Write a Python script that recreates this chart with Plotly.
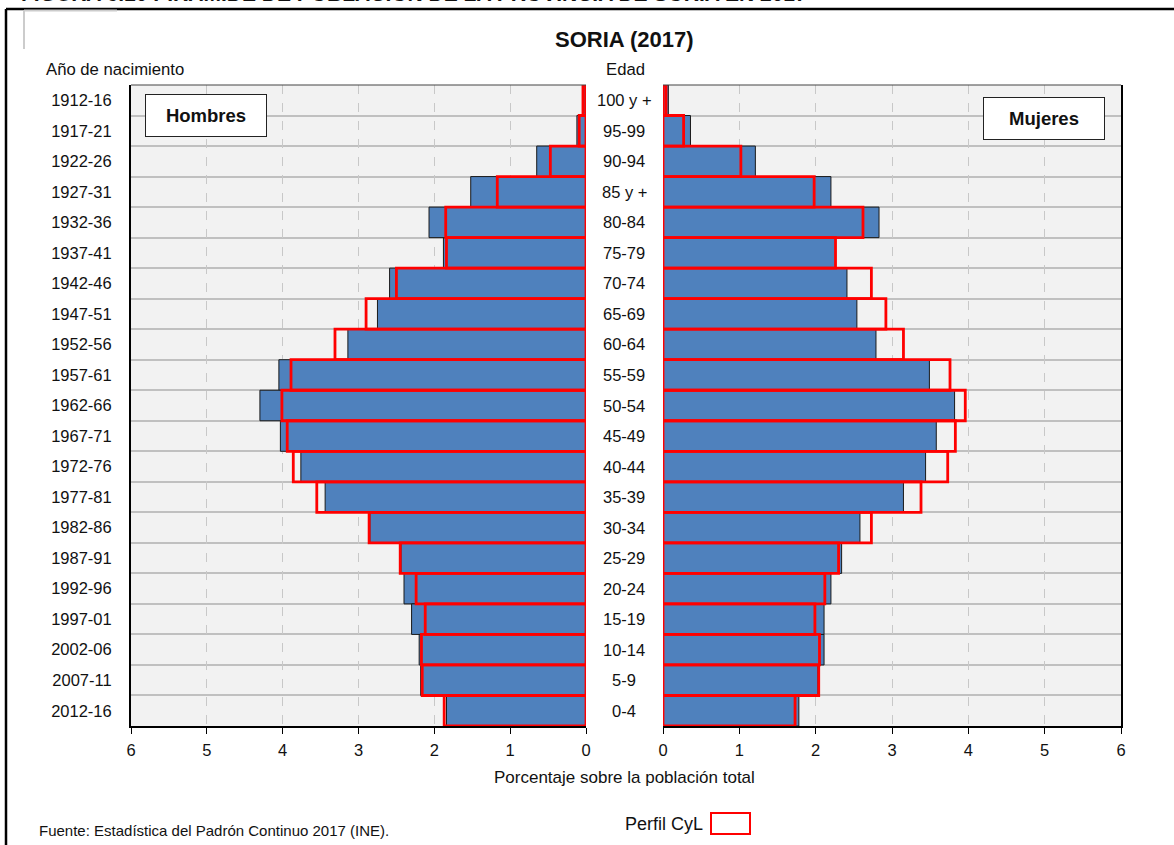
"""Pirámide de población de Soria (2017) frente al perfil de Castilla y León."""
import plotly.graph_objects as go

W, H = 1174, 845

birth_years = [
    "1912-16", "1917-21", "1922-26", "1927-31", "1932-36", "1937-41", "1942-46",
    "1947-51", "1952-56", "1957-61", "1962-66", "1967-71", "1972-76", "1977-81",
    "1982-86", "1987-91", "1992-96", "1997-01", "2002-06", "2007-11", "2012-16",
]
ages = [
    "100 y +", "95-99", "90-94", "85 y +", "80-84", "75-79", "70-74",
    "65-69", "60-64", "55-59", "50-54", "45-49", "40-44", "35-39",
    "30-34", "25-29", "20-24", "15-19", "10-14", "5-9", "0-4",
]

# % sobre la población total (Soria)
hombres_soria = [0.03, 0.12, 0.65, 1.52, 2.07, 1.88, 2.59, 2.75, 3.14, 4.05, 4.30,
                 4.03, 3.76, 3.44, 2.85, 2.44, 2.40, 2.30, 2.20, 2.18, 1.84]
mujeres_soria = [0.07, 0.36, 1.21, 2.20, 2.83, 2.26, 2.41, 2.54, 2.79, 3.49, 3.82,
                 3.58, 3.44, 3.15, 2.58, 2.34, 2.20, 2.11, 2.11, 2.03, 1.78]
# perfil Castilla y León
hombres_cyl = [0.04, 0.09, 0.47, 1.17, 1.85, 1.84, 2.50, 2.90, 3.31, 3.89, 4.01,
               3.94, 3.86, 3.55, 2.86, 2.45, 2.24, 2.12, 2.17, 2.16, 1.87]
mujeres_cyl = [0.04, 0.27, 1.02, 1.98, 2.62, 2.26, 2.73, 2.92, 3.15, 3.76, 3.96,
               3.83, 3.73, 3.38, 2.73, 2.30, 2.12, 1.99, 2.05, 2.04, 1.73]

x_ticks = [0, 1, 2, 3, 4, 5, 6]

BLUE = "#4f81bd"
RED = "#ff0000"
FONT = "Liberation Sans, Arial, sans-serif"


def px(x):
    return x / W


def py(y):
    return 1 - y / H


rows = list(range(len(birth_years)))

fig = go.Figure()
fig.add_trace(go.Bar(
    x=hombres_soria, y=rows, orientation="h", width=1,
    marker={"color": BLUE, "line": {"color": "#1a1a1a", "width": 1}},
    xaxis="x", yaxis="y", showlegend=False, hoverinfo="x",
))
fig.add_trace(go.Bar(
    x=hombres_cyl, y=rows, orientation="h", width=1,
    marker={"color": "rgba(0,0,0,0)", "line": {"color": RED, "width": 2.8}},
    xaxis="x", yaxis="y", showlegend=False, hoverinfo="x",
))
fig.add_trace(go.Bar(
    x=mujeres_soria, y=rows, orientation="h", width=1,
    marker={"color": BLUE, "line": {"color": "#1a1a1a", "width": 1}},
    xaxis="x2", yaxis="y2", showlegend=False, hoverinfo="x",
))
fig.add_trace(go.Bar(
    x=mujeres_cyl, y=rows, orientation="h", width=1,
    marker={"color": "rgba(0,0,0,0)", "line": {"color": RED, "width": 2.8}},
    xaxis="x2", yaxis="y2", showlegend=False, hoverinfo="x",
))

y_dom = [py(726), py(85)]
xaxis_common = {
    "tickvals": x_ticks,
    "ticktext": [str(v) for v in x_ticks],
    "ticks": "outside", "ticklen": 6, "tickcolor": "black", "tickwidth": 1,
    "showgrid": True, "gridcolor": "#c8c8c8", "griddash": "dash", "gridwidth": 1,
    "showline": True, "linecolor": "black", "linewidth": 2,
    "zeroline": False,
    "ticklabelstandoff": 2,
    "tickfont": {"size": 16.5, "color": "#111"},
    "fixedrange": True,
}
yaxis_common = {
    "range": [20.5, -0.5],
    "showgrid": False,
    "zeroline": False,
    "minor": {"tick0": 0.5, "dtick": 1, "showgrid": True,
              "gridcolor": "#c0c0c0", "gridwidth": 1.5},
    "showline": True, "linecolor": "black", "linewidth": 2,
    "fixedrange": True,
}

fig.update_layout(
    width=W, height=H,
    paper_bgcolor="white",
    plot_bgcolor="#f2f2f2",
    barmode="overlay",
    margin={"l": 0, "r": 0, "t": 0, "b": 0, "autoexpand": False},
    font={"family": FONT, "color": "#111"},
    xaxis={**xaxis_common, "domain": [px(131), px(586)], "range": [6, 0], "anchor": "y"},
    xaxis2={**xaxis_common, "domain": [px(663), px(1121)], "range": [0, 6], "anchor": "y2"},
    yaxis={**yaxis_common, "domain": y_dom, "anchor": "x", "side": "left",
           "tickvals": rows, "ticktext": birth_years, "ticks": "",
           "ticklabelstandoff": 14, "tickfont": {"size": 16.5, "color": "#111"}},
    yaxis2={**yaxis_common, "domain": y_dom, "anchor": "x2", "side": "right",
            "tickvals": rows, "showticklabels": False, "ticks": ""},
)

annotations = [
    {"text": "<b>FIGURA 6.10 PIRÁMIDE DE POBLACIÓN DE LA PROVINCIA DE SORIA EN 2017</b>",
     "x": px(19), "y": py(-6.5), "xanchor": "left", "yanchor": "middle",
     "font": {"size": 21}},
    {"text": "<b>SORIA (2017)</b>", "x": px(624), "y": py(39),
     "xanchor": "center", "yanchor": "middle", "font": {"size": 22}},
    {"text": "Año de nacimiento", "x": px(44), "y": py(70),
     "xanchor": "left", "yanchor": "middle", "font": {"size": 16.7}},
    {"text": "Edad", "x": px(604), "y": py(70),
     "xanchor": "left", "yanchor": "middle", "font": {"size": 16.7}},
    {"text": "Porcentaje sobre la población total", "x": px(624), "y": py(777),
     "xanchor": "center", "yanchor": "middle", "font": {"size": 17}},
    {"text": "Fuente: Estadística del Padrón Continuo 2017 (INE).", "x": px(37), "y": py(830),
     "xanchor": "left", "yanchor": "middle", "font": {"size": 15}},
    {"text": "Perfil CyL", "x": px(705), "y": py(824),
     "xanchor": "right", "yanchor": "middle", "font": {"size": 18}},
    {"text": "<b>Hombres</b>", "x": px(206), "y": py(116),
     "xanchor": "center", "yanchor": "middle", "font": {"size": 18.5},
     "width": 116, "height": 37, "borderpad": 2, "bordercolor": "#222",
     "borderwidth": 1, "bgcolor": "white"},
    {"text": "<b>Mujeres</b>", "x": px(1044), "y": py(118),
     "xanchor": "center", "yanchor": "middle", "font": {"size": 18.5},
     "width": 116, "height": 37, "borderpad": 2, "bordercolor": "#222",
     "borderwidth": 1, "bgcolor": "white"},
]
for i, age in enumerate(ages):
    annotations.append({
        "text": age, "x": px(624), "y": i, "xref": "paper", "yref": "y2",
        "xanchor": "center", "yanchor": "middle", "showarrow": False,
        "font": {"size": 16.5},
    })
for a in annotations:
    a.setdefault("xref", "paper")
    a.setdefault("yref", "paper")
    a.setdefault("showarrow", False)
fig.update_layout(annotations=annotations)

shapes = [
    # marco exterior
    {"type": "line", "x0": px(6), "x1": 1, "y0": py(9), "y1": py(9),
     "line": {"color": "black", "width": 2.5}},
    {"type": "line", "x0": px(6), "x1": px(6), "y0": py(9), "y1": 0,
     "line": {"color": "black", "width": 2.5}},
    # trazo gris
    {"type": "line", "x0": px(24), "x1": px(117), "y0": py(10.5), "y1": py(10.5),
     "line": {"color": "#cccccc", "width": 2}},
    {"type": "line", "x0": px(24), "x1": px(24), "y0": py(10.5), "y1": py(49),
     "line": {"color": "#cccccc", "width": 2}},
    # borde superior de las áreas de trazado
    {"type": "line", "x0": px(131), "x1": px(586), "y0": py(85), "y1": py(85),
     "line": {"color": "#444444", "width": 1.2}},
    {"type": "line", "x0": px(663), "x1": px(1121), "y0": py(85), "y1": py(85),
     "line": {"color": "#444444", "width": 1.2}},
    # muestra de leyenda
    {"type": "rect", "x0": px(711), "x1": px(750), "y0": py(813), "y1": py(834),
     "line": {"color": RED, "width": 2}, "fillcolor": "white"},
]
for s in shapes:
    s["xref"] = "paper"
    s["yref"] = "paper"
fig.update_layout(shapes=shapes)

fig.write_html("out.html", config={"displayModeBar": False},
               post_script="document.body.style.margin='0';")
